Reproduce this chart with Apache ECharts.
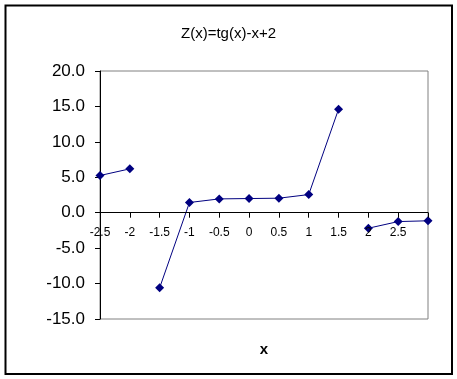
<!DOCTYPE html>
<html>
<head>
<meta charset="utf-8">
<script src="https://cdn.jsdelivr.net/npm/echarts@6/dist/echarts.min.js"></script>
<style>
html,body{margin:0;padding:0;background:#fff;}
#chart{width:457px;height:379px;}
</style>
</head>
<body>
<div id="chart"></div>
<script>
var titleText = 'Z(x)=tg(x)-x+2';
var categories = ['-2.5', '-2', '-1.5', '-1', '-0.5', '0', '0.5', '1', '1.5', '2', '2.5', ''];
var zValues = [5.25, 6.19, -10.60, 1.44, 1.95, 2.00, 2.05, 2.56, 14.60, -2.19, -1.25, -1.14];
// indices where a new connected segment begins
var segmentStarts = [0, 2, 9];
var yTicks = {min: -15, max: 20, interval: 5};

var gridLeft = 100, gridTop = 71, gridW = 328, gridH = 248;
var zeroFrac = yTicks.max / (yTicks.max - yTicks.min);

var chart = echarts.init(document.getElementById('chart'), null, {renderer: 'canvas'});
var navy = '#000080';
var font = 'Liberation Sans, Arial, sans-serif';
var series = segmentStarts.map(function (s, k) {
  var e = k + 1 < segmentStarts.length ? segmentStarts[k + 1] : zValues.length;
  return {
    type: 'line',
    xAxisIndex: 0, yAxisIndex: 0,
    data: zValues.map(function (v, i) { return (i >= s && i < e) ? v : null; }),
    symbol: 'diamond',
    symbolSize: 9,
    showAllSymbol: true,
    connectNulls: false,
    lineStyle: {color: navy, width: 1},
    itemStyle: {color: navy},
    z: 5
  };
});

chart.setOption({
  animation: false,
  title: {
    text: titleText,
    left: 'center',
    top: 21,
    textStyle: {fontFamily: font, fontSize: 15, fontWeight: 'normal', color: '#000'}
  },
  grid: [
    {left: gridLeft, top: gridTop, width: gridW, height: gridH,
     show: true, borderColor: '#808080', borderWidth: 1, backgroundColor: 'transparent'},
    // upper grid whose bottom edge sits on y = 0, used to draw the x axis there
    {left: gridLeft, top: gridTop, width: gridW, height: gridH * zeroFrac, show: false}
  ],
  xAxis: [
    {
      type: 'category', gridIndex: 0, data: categories, boundaryGap: false,
      axisLine: {show: false}, axisTick: {show: false}, axisLabel: {show: false}, splitLine: {show: false}
    },
    {
      type: 'category', gridIndex: 1, data: categories, boundaryGap: false, position: 'bottom',
      axisLine: {onZero: false, lineStyle: {color: '#000', width: 1}},
      axisTick: {show: true, inside: false, length: 5, alignWithLabel: true, interval: 0, lineStyle: {color: '#000'}},
      axisLabel: {interval: 0, margin: 14, fontFamily: font, fontSize: 12, color: '#000'},
      splitLine: {show: false},
      z: 6
    }
  ],
  yAxis: [
    {
      type: 'value', gridIndex: 0,
      min: yTicks.min, max: yTicks.max, interval: yTicks.interval,
      axisLine: {show: true, onZero: false, lineStyle: {color: '#000', width: 1}},
      axisTick: {show: true, inside: false, length: 5, lineStyle: {color: '#000'}},
      axisLabel: {
        margin: 15,
        fontFamily: font, fontSize: 17, color: '#000',
        formatter: function (v) { return v.toFixed(1); }
      },
      splitLine: {show: false}
    },
    {
      type: 'value', gridIndex: 1, min: 0, max: yTicks.max, show: false
    }
  ],
  graphic: [
    {
      type: 'rect',
      shape: {x: 5.5, y: 5.5, width: 446.5, height: 368.5},
      style: {fill: 'none', stroke: '#000', lineWidth: 2},
      silent: true, z: 100
    },
    {
      type: 'text',
      x: 264, y: 350,
      style: {text: 'x', fontFamily: font, fontSize: 15, fontWeight: 'bold', fill: '#000', textAlign: 'center', textVerticalAlign: 'middle'},
      z: 100
    }
  ],
  series: series
});
</script>
</body>
</html>
